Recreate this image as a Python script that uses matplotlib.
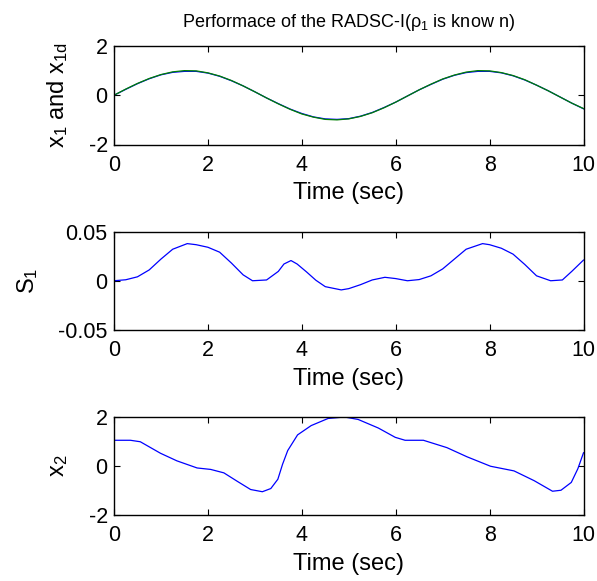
import matplotlib
matplotlib.use("Agg")
import matplotlib.pyplot as plt

plt.rcParams['font.family'] = ['Liberation Sans', 'DejaVu Sans']
plt.rcParams['mathtext.fontset'] = 'custom'
plt.rcParams['mathtext.rm'] = 'Liberation Sans'
plt.rcParams['mathtext.it'] = 'Liberation Sans'
plt.rcParams['mathtext.default'] = 'regular'
plt.rcParams['axes.unicode_minus'] = False

# ---- data ----
t_top = [0, 0.25, 0.5, 0.75, 1.0, 1.25, 1.5, 1.75, 2.0, 2.25, 2.5, 2.75, 3.0, 3.25,
         3.5, 3.75, 4.0, 4.25, 4.5, 4.75, 5.0, 5.25, 5.5, 5.75, 6.0, 6.25, 6.5, 6.75,
         7.0, 7.25, 7.5, 7.75, 8.0, 8.25, 8.5, 8.75, 9.0, 9.25, 9.5, 9.75, 10.0]
x1d = [0.0, 0.25, 0.48, 0.68, 0.84, 0.95, 1.0, 0.99, 0.91, 0.78, 0.6, 0.38, 0.14,
       -0.11, -0.35, -0.57, -0.76, -0.89, -0.98, -1.0, -0.96, -0.86, -0.71, -0.51,
       -0.28, -0.03, 0.22, 0.45, 0.66, 0.82, 0.94, 1.0, 0.99, 0.92, 0.8, 0.63, 0.41,
       0.18, -0.07, -0.32, -0.54]
x1 = [0.0, 0.24, 0.47, 0.67, 0.83, 0.93, 0.97, 0.97, 0.9, 0.77, 0.59, 0.38, 0.14,
      -0.11, -0.34, -0.56, -0.74, -0.88, -0.96, -0.98, -0.95, -0.85, -0.7, -0.5,
      -0.28, -0.03, 0.22, 0.44, 0.65, 0.81, 0.92, 0.97, 0.97, 0.91, 0.79, 0.62, 0.41,
      0.18, -0.07, -0.32, -0.55]

t_s = [0, 0.25, 0.5, 0.75, 1.0, 1.25, 1.56, 1.75, 2.0, 2.25, 2.5, 2.75, 2.95, 3.25,
       3.5, 3.62, 3.77, 3.9, 4.1, 4.3, 4.5, 4.84, 5.0, 5.25, 5.5, 5.77, 6.0, 6.25,
       6.5, 6.75, 7.0, 7.25, 7.5, 7.85, 8.0, 8.25, 8.5, 8.75, 9.0, 9.3, 9.55, 9.75, 10.0]
S1 = [0.0, 0.001, 0.004, 0.011, 0.022, 0.032, 0.0377, 0.0366, 0.034, 0.029, 0.018,
      0.006, 0.0, 0.0008, 0.0095, 0.017, 0.0205, 0.017, 0.009, 0.0005, -0.006,
      -0.0093, -0.008, -0.004, 0.0008, 0.0035, 0.0022, 0.0, 0.0012, 0.005, 0.012,
      0.022, 0.032, 0.0377, 0.0366, 0.033, 0.027, 0.0165, 0.005, 0.0, 0.0008,
      0.0095, 0.021]

t_x2 = [0, 0.35, 0.56, 0.99, 1.34, 1.77, 2.06, 2.34, 2.63, 2.91, 3.16, 3.34, 3.49,
        3.59, 3.7, 3.91, 4.2, 4.56, 4.91, 5.2, 5.63, 5.99, 6.2, 6.59, 7.09, 7.52,
        8.02, 8.52, 8.95, 9.34, 9.52, 9.74, 9.88, 10.0]
x2 = [1.05, 1.05, 0.99, 0.52, 0.21, -0.08, -0.14, -0.28, -0.63, -0.96, -1.05, -0.92,
      -0.54, 0.07, 0.63, 1.27, 1.65, 1.94, 2.0, 1.9, 1.55, 1.17, 1.05, 1.05, 0.75,
      0.375, -0.01, -0.2, -0.6, -1.03, -0.99, -0.67, -0.11, 0.54]

xticks = [0, 2, 4, 6, 8, 10]
yticks_top = [-2, 0, 2]
yticks_mid = [-0.05, 0, 0.05]
ytick_labels_mid = ['-0.05', '0', '0.05']
yticks_bot = [-2, 0, 2]

title = r'Performace of the RADSC-I($\rho_1$ is know n)'
xlabel = 'Time (sec)'
ylabels = [r'$x_1$ and $x_{1d}$', r'$S_1$', r'$x_2$']

# ---- figure ----
W, H = 597, 581
fig = plt.figure(figsize=(W / 100, H / 100), dpi=100)
left = 114 / W
width = (583.5 - 114) / W
rects = [(46, 144.5), (231.5, 330), (417, 515)]
axes = []
for top, bot in rects:
    ax = fig.add_axes([left, 1 - bot / H, width, (bot - top) / H])
    axes.append(ax)

TFS = 15.5
LFS = 17
blue = (0, 0, 1)
green = (0, 0.5, 0)

ax = axes[0]
ax.plot(t_top, x1, color=blue, lw=0.9)
ax.plot(t_top, x1d, color=green, lw=0.9)
ax.set_ylim(-2, 2)
ax.set_yticks(yticks_top)
ax.set_title(title, fontsize=13, pad=14)

ax = axes[1]
ax.plot(t_s, S1, color=blue, lw=0.9)
ax.set_ylim(-0.05, 0.05)
ax.set_yticks(yticks_mid)
ax.set_yticklabels(ytick_labels_mid)

ax = axes[2]
ax.plot(t_x2, x2, color=blue, lw=0.9)
ax.set_ylim(-2, 2)
ax.set_yticks(yticks_bot)

for ax, yl in zip(axes, ylabels):
    ax.set_xlim(0, 10)
    ax.set_xticks(xticks)
    ax.set_xlabel(xlabel, fontsize=LFS, labelpad=4.5)
    ax.set_ylabel(yl, fontsize=LFS, labelpad=13)
    ax.tick_params(direction='in', top=True, right=True, length=4, width=0.8,
                   labelsize=TFS)
    ax.tick_params(axis='x', pad=7.5)
    ax.tick_params(axis='y', pad=4.5)
    for s in ax.spines.values():
        s.set_linewidth(1.0)
        s.set_color('black')

fig.savefig('out.png', dpi=100)
